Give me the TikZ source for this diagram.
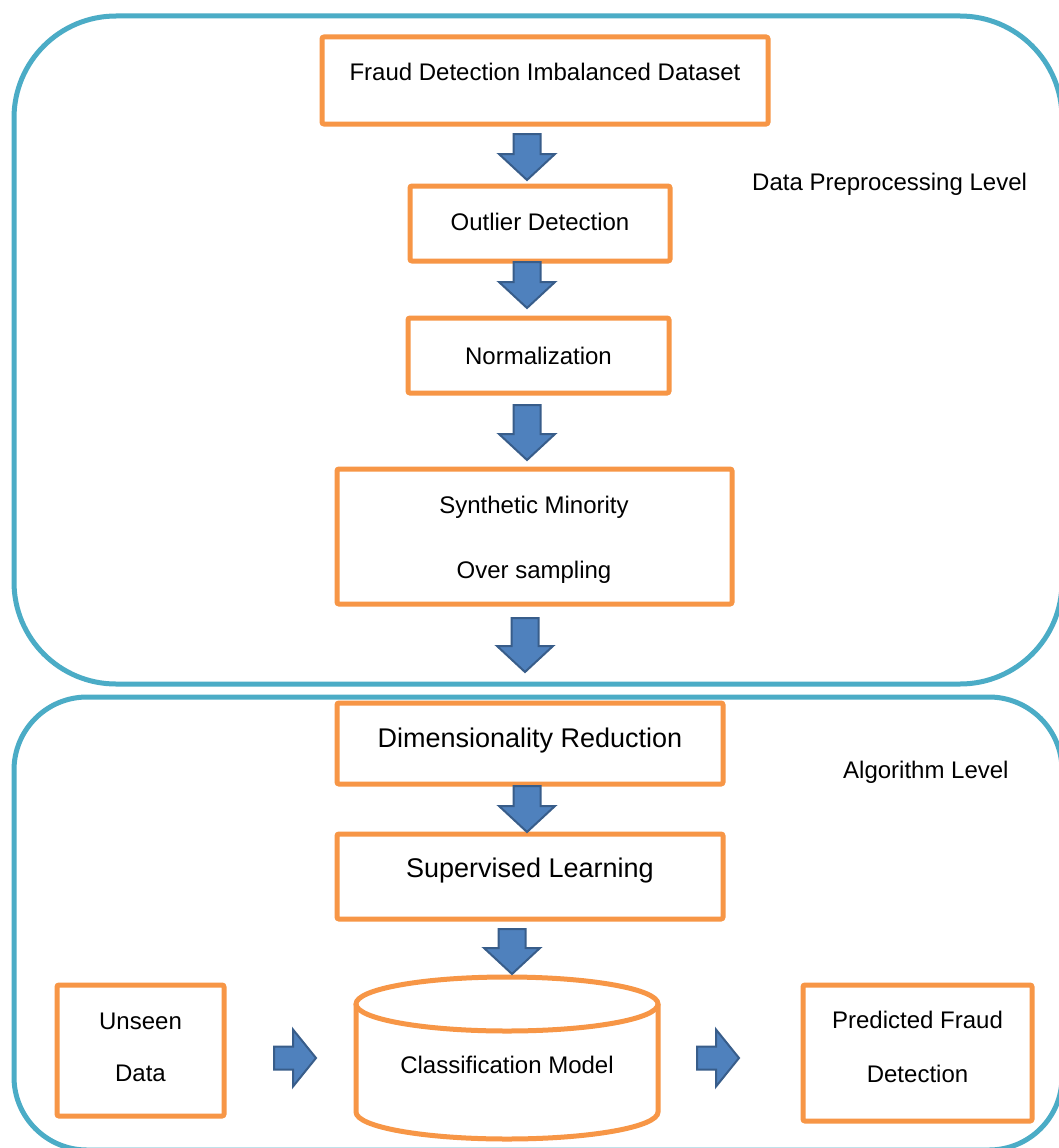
\documentclass[tikz,border=0pt]{standalone}
\usepackage{fontspec}
\setmainfont{Liberation Sans}
\usetikzlibrary{calc}
\definecolor{frameblue}{HTML}{4BACC6}
\definecolor{boxorange}{HTML}{F79646}
\definecolor{arrowfill}{HTML}{4F81BD}
\definecolor{arrowedge}{HTML}{385D8A}
\tikzset{
  levelframe/.style={draw=frameblue, line width=5pt},
  stepbox/.style={draw=boxorange, line width=5pt, rounded corners=2pt, rectangle, inner sep=0pt},
  lbl/.style={font=\fontsize{24}{28}\selectfont, anchor=base, inner sep=0pt},
  biglbl/.style={font=\fontsize{27}{32}\selectfont, anchor=base, inner sep=0pt},
  blk/.style={fill=arrowfill, draw=arrowedge, line width=2pt, line join=miter},
  % block arrow pointing down, origin at the top of the shaft
  pics/downblk/.style={code={
    \path[blk] (-13.5,0) -- (13.5,0) -- (13.5,{#1-26}) -- (28,{#1-26}) -- (0,#1)
      -- (-28,{#1-26}) -- (-13.5,{#1-26}) -- cycle;}},
  % block arrow pointing right, origin at the middle of the shaft's tail
  pics/rightblk/.style={code={
    \path[blk] (0,-11.5) -- (19,-11.5) -- (19,-28.5) -- (42,0) -- (19,28.5)
      -- (19,11.5) -- (0,11.5) -- cycle;}}
}
\begin{document}
\begin{tikzpicture}[x=1pt, y=-1pt]
\useasboundingbox (0,0) rectangle (1059,1148);
\fill[white] (0,0) rectangle (1059,1148);

% the two level frames
\draw[levelframe, rounded corners=102pt] (14,16) rectangle (1062,684);
\draw[levelframe, rounded corners=73pt] (14,697) rectangle (1062,1150);

% data preprocessing steps
\node[stepbox, minimum width=446pt, minimum height=87pt] (b1) at (545,80.5) {};
\node[stepbox, minimum width=260pt, minimum height=75pt] (b2) at (540,223.5) {};
\node[stepbox, minimum width=261pt, minimum height=75pt] (b3) at (538.5,355.5) {};
\node[stepbox, minimum width=395pt, minimum height=135pt] (b4) at (534.5,536.5) {};

\node[lbl] (t1) at (545,81) {Fraud Detection Imbalanced Dataset};
\node[lbl] (t2) at (540,230) {Outlier Detection};
\node[lbl] (t3) at (538.5,364) {Normalization};
\node[lbl] (t4a) at (534,513) {Synthetic Minority};
\node[lbl] (t4b) at (534,578) {Over sampling};
\node[lbl, anchor=base west] (lv1) at (752,190) {Data Preprocessing Level};

% algorithm steps
\node[stepbox, minimum width=386pt, minimum height=81pt] (b5) at (530,743.5) {};
\node[stepbox, minimum width=386pt, minimum height=85pt] (b6) at (530,876.5) {};
\node[stepbox, minimum width=167pt, minimum height=131pt] (un) at (140.5,1050.5) {};
\node[stepbox, minimum width=229pt, minimum height=136pt] (pr) at (917.5,1053) {};

\node[biglbl] (t5) at (530,747) {Dimensionality Reduction};
\node[biglbl] (t6) at (530,877) {Supervised Learning};
\node[lbl, anchor=base west] (lv2) at (843,778) {Algorithm Level};
\node[lbl] (tu1) at (140.5,1029) {Unseen};
\node[lbl] (tu2) at (140.5,1081) {Data};
\node[lbl] (tp1) at (917.5,1028) {Predicted Fraud};
\node[lbl] (tp2) at (917.5,1082) {Detection};

% classification model drum
\coordinate (cyltop) at (507,1004);
\coordinate (cylbot) at (507,1112);
\draw[draw=boxorange, line width=5pt]
  ($(cyltop)+(-151,0)$) -- ($(cylbot)+(-151,0)$)
  .. controls ($(cylbot)+(-151,14.9)$) and ($(cylbot)+(-83.4,27)$) .. ($(cylbot)+(0,27)$)
  .. controls ($(cylbot)+(83.4,27)$) and ($(cylbot)+(151,14.9)$) .. ($(cylbot)+(151,0)$)
  -- ($(cyltop)+(151,0)$);
\draw[draw=boxorange, line width=5pt] (cyltop) ellipse [x radius=151, y radius=27];
\node[lbl] (cls) at (507,1073) {Classification Model};

% flow arrows
\pic at (527,134) {downblk=46};
\pic at (527,262) {downblk=46};
\pic at (527,405) {downblk=55};
\pic at (525,618) {downblk=54};
\pic at (527,786) {downblk=46};
\pic at (512,929) {downblk=45};
\pic at (274,1058) {rightblk};
\pic at (697,1058) {rightblk};
\end{tikzpicture}
\end{document}
